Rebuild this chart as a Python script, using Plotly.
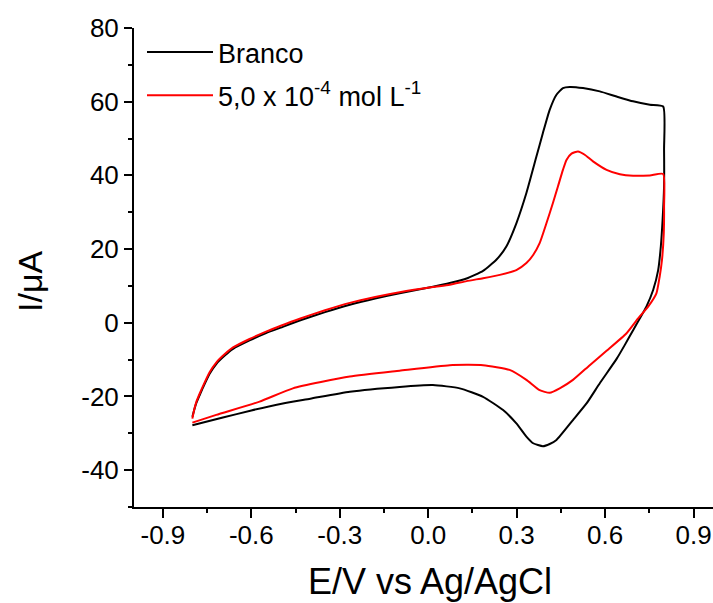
import plotly.graph_objects as go

# Branco (black): forward then reverse scan
branco_E = [-0.80, -0.795, -0.787, -0.775, -0.764, -0.742, -0.719, -0.69, -0.662, -0.606, -0.55, -0.50,
            -0.436, -0.35, -0.266, -0.18, -0.097, 0.016, 0.073, 0.13, 0.186, 0.231, 0.265, 0.299,
            0.333, 0.367, 0.389, 0.412, 0.435, 0.457, 0.48, 0.525, 0.582, 0.639, 0.695, 0.752, 0.797,
            0.800, 0.800, 0.795, 0.789, 0.780, 0.763, 0.740, 0.718, 0.695, 0.667, 0.639, 0.582,
            0.537, 0.491, 0.435, 0.412, 0.389, 0.356, 0.333, 0.299, 0.254, 0.186, 0.107, 0.016,
            -0.097, -0.266, -0.40, -0.493, -0.60, -0.70, -0.80]
branco_I = [-25.5, -24.0, -21.9, -19.6, -17.6, -13.9, -11.2, -8.9, -7.1, -4.8, -2.8, -1.3,
            0.6, 2.9, 4.9, 6.6, 8.0, 9.8, 10.8, 12.0, 14.1, 17.1, 20.7, 27.0,
            35.2, 45.1, 51.5, 57.8, 61.9, 63.7, 64.0, 63.7, 62.8, 61.4, 60.1, 59.2, 58.7,
            47.0, 37.0, 27.9, 20.7, 14.3, 8.9, 4.4, 1.2, -2.0, -6.0, -9.8, -16.4,
            -21.9, -26.4, -31.8, -32.9, -33.5, -32.7, -30.9, -27.3, -23.7, -20.1, -17.8, -16.9,
            -17.4, -18.7, -20.6, -21.9, -23.8, -25.8, -27.8]

# 5,0 x 10^-4 mol L^-1 (red)
amostra_E = [-0.80, -0.795, -0.787, -0.775, -0.764, -0.742, -0.719, -0.69, -0.662, -0.606, -0.55, -0.50,
             -0.436, -0.35, -0.266, -0.18, -0.097, 0.016, 0.073, 0.13, 0.186, 0.243, 0.299, 0.333,
             0.356, 0.378, 0.401, 0.423, 0.44, 0.457, 0.469, 0.486, 0.508, 0.531, 0.559, 0.605,
             0.65, 0.695, 0.752, 0.797,
             0.800, 0.799, 0.793, 0.785, 0.774, 0.746, 0.712, 0.672, 0.605, 0.548, 0.491, 0.446,
             0.412, 0.378, 0.333, 0.276, 0.186, 0.073, -0.097, -0.266, -0.459, -0.572, -0.719, -0.80]
amostra_I = [-26.0, -24.0, -21.6, -19.2, -17.2, -13.5, -10.8, -8.5, -6.7, -4.4, -2.4, -0.8,
             1.1, 3.4, 5.4, 7.0, 8.3, 9.7, 10.3, 11.3, 12.1, 13.0, 14.3, 16.2,
             18.4, 21.6, 27.0, 32.5, 37.0, 41.5, 44.2, 45.9, 46.5, 45.6, 43.8, 41.5,
             40.3, 39.9, 40.0, 40.4,
             31.5, 24.3, 17.1, 12.5, 8.0, 4.4, 1.2, -2.9, -7.6, -11.5, -15.5, -17.8,
             -19.0, -18.3, -15.5, -12.8, -11.5, -11.5, -13.0, -14.6, -17.8, -21.4, -25.0, -27.1]

x_ticks = [-0.9, -0.6, -0.3, 0.0, 0.3, 0.6, 0.9]
x_tick_labels = ["-0.9", "-0.6", "-0.3", "0.0", "0.3", "0.6", "0.9"]
y_ticks = [-40, -20, 0, 20, 40, 60, 80]
y_tick_labels = ["-40", "-20", "0", "20", "40", "60", "80"]

FONT = "Arial, 'Liberation Sans', sans-serif"

fig = go.Figure()
fig.add_trace(go.Scatter(x=branco_E, y=branco_I, mode="lines", name="Branco",
                         line=dict(color="black", width=2, shape="spline", smoothing=0.5),
                         legendgroup="a"))
fig.add_trace(go.Scatter(x=amostra_E, y=amostra_I, mode="lines",
                         name="5,0 x 10<sup>-4</sup> mol L<sup>-1</sup>",
                         line=dict(color="#ff0000", width=2, shape="spline", smoothing=0.5),
                         legendgroup="b"))

fig.update_layout(
    width=713, height=603,
    margin=dict(l=134, r=0, t=28, b=96, autoexpand=False),
    paper_bgcolor="white", plot_bgcolor="white",
    font=dict(family=FONT, color="black", size=26),
    showlegend=True,
    legend=dict(x=8 / 579, y=1.0, xanchor="left", yanchor="top", bgcolor="rgba(0,0,0,0)",
                font=dict(size=27, family=FONT), itemwidth=66, tracegroupgap=5),
    xaxis=dict(range=[-0.998, 0.966], tickvals=x_ticks, ticktext=x_tick_labels, automargin=False,
               showgrid=False, zeroline=False, showline=True, linewidth=2, linecolor="black",
               ticks="outside", ticklen=9, tickwidth=2, tickcolor="black",
               tickfont=dict(size=26, family=FONT), ticklabelstandoff=-5,
               minor=dict(dtick=0.15, tick0=-0.9, ticks="outside", ticklen=4, tickwidth=2,
                          tickcolor="black", showgrid=False)),
    yaxis=dict(range=[-50, 80], tickvals=y_ticks, ticktext=y_tick_labels, automargin=False,
               showgrid=False, zeroline=False, showline=True, linewidth=2, linecolor="black",
               ticks="outside", ticklen=8, tickwidth=2, tickcolor="black",
               tickfont=dict(size=26, family=FONT),
               minor=dict(dtick=10, tick0=0, ticks="outside", ticklen=4, tickwidth=2,
                          tickcolor="black", showgrid=False)),
)

fig.add_annotation(text="E/V vs Ag/AgCl", xref="paper", yref="paper",
                   x=(430 - 134) / 579, y=-(581 - 507) / 479, xanchor="center", yanchor="middle",
                   showarrow=False, font=dict(size=36, family=FONT))
fig.add_annotation(text="I/\u03bcA", xref="paper", yref="paper",
                   x=-(134 - 30) / 579, y=(507 - 282) / 479, xanchor="center", yanchor="middle",
                   textangle=-90, showarrow=False, font=dict(size=34, family=FONT))

fig.write_html("out.html", config={"displayModeBar": False},
               post_script="document.body.style.margin='0';")
